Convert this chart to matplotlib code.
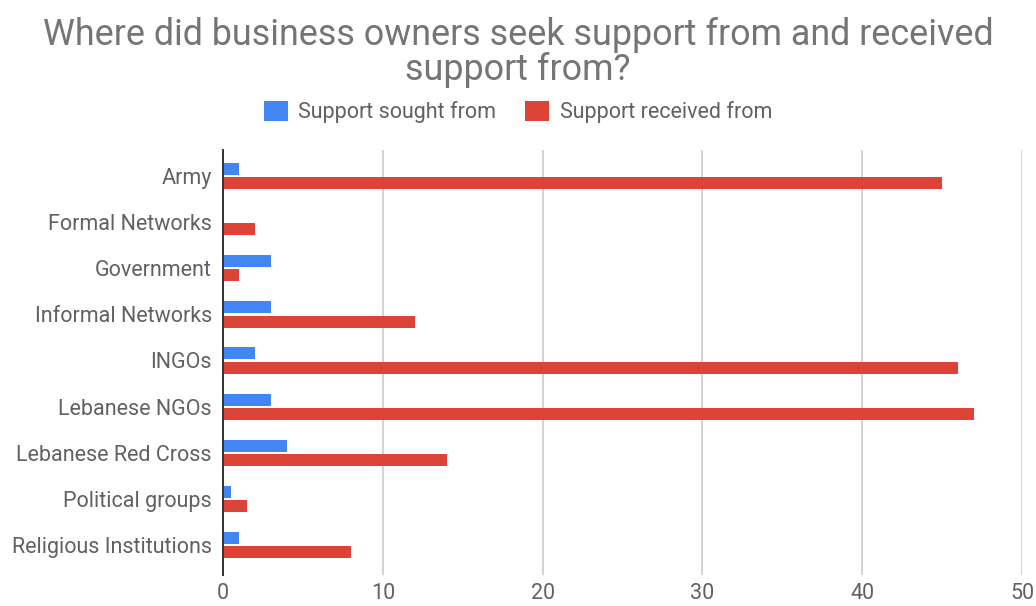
import numpy as np
import matplotlib.pyplot as plt
import matplotlib as mpl

BLUE = "#4285F4"; RED = "#DB4437"; GREY = "#757575"; DGREY = "#616161"; GRID = "#CCCCCC"
mpl.rcParams.update({"font.family": ["Roboto", "DejaVu Sans"]})

categories = ["Army", "Formal Networks", "Government", "Informal Networks", "INGOs",
              "Lebanese NGOs", "Lebanese Red Cross", "Political groups", "Religious Institutions"]
sought = [1, 0, 3, 3, 2, 3, 4, 0.5, 1]
received = [45, 2, 1, 12, 46, 47, 14, 1.5, 8]
xticks = [0, 10, 20, 30, 40, 50]

fig = plt.figure(figsize=(10.36, 6.06), dpi=100)
ax = fig.add_axes([0.2153, 0.0512, 0.7712, 0.7013])
y = np.arange(len(categories))
ax.barh(y - 0.15, sought, height=0.26, color=BLUE, label="Support sought from", zorder=3)
ax.barh(y + 0.16, received, height=0.26, color=RED, label="Support received from", zorder=3)

ax.set_xlim(0, 50)
ax.set_ylim(8.65, -0.56)
ax.set_yticks(y)
ax.set_yticklabels(categories, fontsize=15.5, color=DGREY)
ax.set_xticks(xticks)
ax.set_xticklabels([str(t) for t in xticks], fontsize=15.5, color=DGREY)
ax.tick_params(length=0, pad=6)
ax.tick_params(axis="y", pad=8)
ax.grid(axis="x", color=GRID, lw=1.2, zorder=0)
for s in ["top", "right", "bottom"]:
    ax.spines[s].set_visible(False)
ax.spines["left"].set_color("#333333")
ax.spines["left"].set_linewidth(1.4)
ax.spines["left"].set_zorder(4)

fig.text(0.5, 0.972, "Where did business owners seek support from and received\nsupport from?",
         ha="center", va="top", fontsize=25.8, color=GREY, linespacing=0.97)
fig.legend(loc="center", bbox_to_anchor=(0.5, 0.815), ncol=2, frameon=False, fontsize=15.5,
           handlelength=1.1, handleheight=1.1, columnspacing=1.35, handletextpad=0.5,
           labelcolor=DGREY)

plt.savefig("out.png", dpi=100, facecolor="white")
